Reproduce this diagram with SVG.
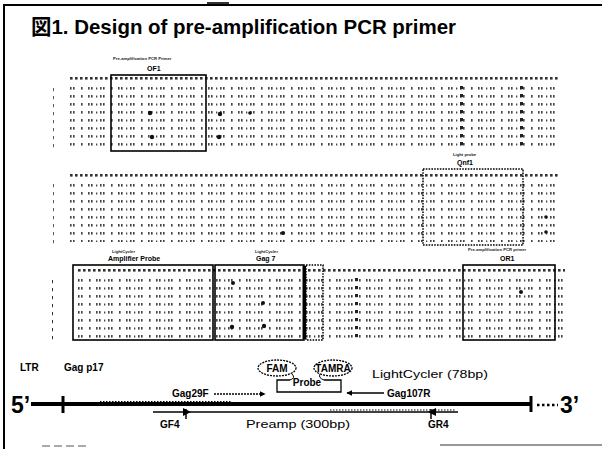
<svg xmlns="http://www.w3.org/2000/svg" width="602" height="449" viewBox="0 0 602 449">
<style>
 .title{font-family:"Liberation Sans","Noto Sans CJK JP",sans-serif;font-weight:bold;font-size:21px;fill:#000}
 .cap{font-family:"Liberation Sans",sans-serif;font-size:4.2px;font-weight:bold;fill:#222}
 .lbl{font-family:"Liberation Sans",sans-serif;font-size:7px;font-weight:bold;fill:#000}
 .box{fill:none;stroke:#000;stroke-width:1.6}
 .dbox{fill:none;stroke:#000;stroke-width:1.5;stroke-dasharray:1.6 1.2}
 .sch{font-family:"Liberation Sans",sans-serif;font-size:10px;font-weight:bold;fill:#000}
 .reg{font-family:"Liberation Sans",sans-serif;font-size:11px;font-weight:normal;fill:#000}
 .big{font-family:"Liberation Sans",sans-serif;font-size:23px;font-weight:bold;fill:#000}
 .ln{stroke:#000;fill:none}
 .mk{fill:#111}
</style>
<defs>
 <pattern id="seq" width="30" height="8" patternUnits="userSpaceOnUse">
  <g fill="#444">
   <rect x="0" y="0" width="1.6" height="2.6"/>
   <rect x="3" y="0" width="1.6" height="2.6"/>
   <rect x="11" y="0" width="1.6" height="2.6"/>
   <rect x="18" y="0" width="1.6" height="2.6"/>
   <rect x="21" y="0" width="1.6" height="2.6"/>
   <rect x="26" y="0.5" width="1.3" height="2"/>
  </g>
 </pattern>
 <pattern id="hdr" width="5" height="4" patternUnits="userSpaceOnUse">
  <rect x="0" y="0" width="2.6" height="2.6" fill="#333"/>
 </pattern>
 <pattern id="num" width="4" height="8" patternUnits="userSpaceOnUse">
  <rect x="0" y="0" width="1.8" height="3.2" fill="#333"/>
 </pattern>
 <pattern id="col" width="6" height="8" patternUnits="userSpaceOnUse">
  <rect x="0" y="0" width="3" height="3.2" fill="#222"/>
 </pattern>
 <marker id="ah" viewBox="0 0 10 10" refX="9" refY="5" markerWidth="6" markerHeight="6" orient="auto-start-reverse" markerUnits="userSpaceOnUse">
  <path d="M0,0 L10,5 L0,10 Z" fill="#000"/>
 </marker>
</defs>

<g id="frame">
 <path d="M4,449 V5 H602" class="ln" stroke-width="2"/>
 <line x1="440" y1="445" x2="602" y2="445" stroke="#333" stroke-width="1.2"/>
 <line x1="42" y1="446" x2="88" y2="446" stroke="#555" stroke-width="1" stroke-dasharray="8 4"/>
 <rect x="207" y="2" width="22" height="2" fill="#333"/>
</g>

<g id="title">
 <text x="31" y="34" class="title" textLength="425" lengthAdjust="spacingAndGlyphs">図1. Design of pre-amplification PCR primer</text>
</g>

<g id="block1">
 <rect x="53" y="86" width="3" height="62" fill="url(#num)"/>
 <g transform="translate(70,77)"><rect x="0" y="0" width="490" height="3" fill="url(#hdr)"/></g>
 <g transform="translate(70,87)"><rect x="0" y="0" width="490" height="62" fill="url(#seq)"/></g>
 <g transform="translate(460,86)"><rect x="0" y="0" width="3" height="62" fill="url(#col)"/></g>
 <g transform="translate(520,86)"><rect x="0" y="0" width="3" height="62" fill="url(#col)"/></g>
 <circle cx="150" cy="113" r="2.2" class="mk"/>
 <circle cx="152" cy="137" r="2.2" class="mk"/>
 <circle cx="220" cy="114" r="2.2" class="mk"/>
 <circle cx="219" cy="137" r="2.2" class="mk"/>
 <circle cx="250" cy="113" r="1.8" class="mk"/>
</g>
<g id="node-OF1">
 <rect x="111" y="75" width="95" height="76" class="box"/>
 <text x="113" y="60" class="cap">Pre-amplification PCR Primer</text>
 <text x="147" y="71" class="lbl">OF1</text>
</g>

<g id="block2">
 <rect x="53" y="182" width="3" height="62" fill="url(#num)"/>
 <g transform="translate(70,174)"><rect x="0" y="0" width="490" height="3" fill="url(#hdr)"/></g>
 <g transform="translate(70,184)"><rect x="0" y="0" width="490" height="58" fill="url(#seq)"/></g>
 <circle cx="283" cy="233" r="2" class="mk"/>
 <circle cx="546" cy="217" r="1.8" class="mk"/>
 <circle cx="546" cy="232" r="1.8" class="mk"/>
</g>
<g id="node-Qnf1">
 <rect x="423" y="169" width="100" height="76" class="dbox"/>
 <text x="453" y="156" class="cap">Light probe</text>
 <text x="457" y="165" class="lbl">Qnf1</text>
</g>

<g id="block3">
 <rect x="50" y="279" width="3" height="62" fill="url(#num)"/>
 <g transform="translate(78,269)"><rect x="0" y="0" width="487" height="3" fill="url(#hdr)"/></g>
 <g transform="translate(78,279)"><rect x="0" y="0" width="487" height="60" fill="url(#seq)"/></g>
 <g transform="translate(355,278)"><rect x="0" y="0" width="3" height="60" fill="url(#col)"/></g>
 <circle cx="233" cy="283" r="2" class="mk"/>
 <circle cx="263" cy="303" r="2" class="mk"/>
 <circle cx="232" cy="327" r="2.2" class="mk"/>
 <circle cx="264" cy="326" r="2.2" class="mk"/>
 <circle cx="521" cy="292" r="2" class="mk"/>
</g>
<g id="node-amplifier-probe">
 <rect x="73" y="265" width="140" height="75" class="box"/>
 <text x="112" y="253" class="cap">LightCycler</text>
 <text x="108" y="261" class="lbl" font-size="6.5">Amplifier Probe</text>
</g>
<g id="node-gag7">
 <rect x="215" y="265" width="89" height="75" class="box"/>
 <rect x="302.5" y="266" width="3.5" height="73" fill="#000"/>
 <rect x="306" y="265" width="17" height="75" class="dbox" stroke-width="1"/>
 <text x="255" y="253" class="cap">LightCycler</text>
 <text x="256" y="261" class="lbl" font-size="6.5">Gag 7</text>
</g>
<g id="node-OR1">
 <rect x="463" y="265" width="92" height="75" class="box"/>
 <text x="468" y="251" class="cap">Pre-amplification PCR primer</text>
 <text x="500" y="261" class="lbl" font-size="6.5">OR1</text>
</g>

<g id="node-genome">
 <text x="20" y="371" class="sch">LTR</text>
 <text x="64" y="371" class="sch">Gag p17</text>
 <text x="11" y="413" class="big">5’</text>
 <line x1="31" y1="404" x2="531" y2="404" class="ln" stroke-width="4"/>
 <line x1="63" y1="396" x2="63" y2="413" class="ln" stroke-width="3"/>
 <line x1="531" y1="396" x2="531" y2="412" class="ln" stroke-width="3"/>
 <line x1="537" y1="405" x2="558" y2="405" class="ln" stroke-width="2.5" stroke-dasharray="2.5 2.5"/>
 <text x="560" y="413" class="big">3’</text>
</g>

<g id="node-probe">
 <ellipse cx="277" cy="368" rx="19" ry="8" fill="#fff" stroke="#000" stroke-width="1.3" stroke-dasharray="2 1"/>
 <text x="277" y="372" class="sch" font-size="9.5" text-anchor="middle">FAM</text>
 <ellipse cx="333" cy="368" rx="19" ry="8" fill="#fff" stroke="#000" stroke-width="1.3" stroke-dasharray="2 1"/>
 <text x="333" y="371.5" class="sch" font-size="8" text-anchor="middle">TAMRA</text>
 <path d="M290,380 H277 V392 H341 V380 H324" class="ln" stroke-width="1.3"/>
 <path d="M292,374 Q296,378 290,380" class="ln" stroke-width="1"/>
 <path d="M320,374 Q318,378 324,380" class="ln" stroke-width="1"/>
 <text x="307" y="386" class="sch" font-size="8.5" text-anchor="middle">Probe</text>
 <text x="372" y="378" class="reg" font-size="11.5" style="font-size:11.5px" textLength="116" lengthAdjust="spacingAndGlyphs">LightCycler (78bp)</text>
</g>

<g id="node-primers">
 <text x="172" y="397" class="sch" font-size="9">Gag29F</text>
 <text x="387" y="397" class="sch" font-size="9">Gag107R</text>
 <text x="160" y="428" class="sch">GF4</text>
 <text x="246" y="428" class="reg" textLength="104" lengthAdjust="spacingAndGlyphs">Preamp (300bp)</text>
 <text x="428" y="428" class="sch">GR4</text>
</g>

<g id="connectors">
 <line x1="214" y1="394" x2="265" y2="394" class="ln" stroke-width="1.5" stroke-dasharray="2 1" marker-end="url(#ah)"/>
 <line x1="384" y1="393" x2="347" y2="393" class="ln" stroke-width="1.5" marker-end="url(#ah)"/>
 <line x1="153" y1="412" x2="458" y2="412" class="ln" stroke-width="1.5"/>
 <line x1="100" y1="401.5" x2="232" y2="401.5" class="ln" stroke-width="1" stroke-dasharray="1.5 1.5" stroke="#555"/>
 <line x1="330" y1="410" x2="456" y2="410" class="ln" stroke-width="1" stroke-dasharray="1.5 1.5" stroke="#555"/>
 <path d="M183,408 L191,412 L183,416 Z" fill="#000"/>
 <line x1="186" y1="409" x2="186" y2="419" class="ln" stroke-width="1.5"/>
 <path d="M436,408 L428,412 L436,416 Z" fill="#000"/>
 <line x1="431" y1="409" x2="431" y2="419" class="ln" stroke-width="1.5"/>
</g>
</svg>
